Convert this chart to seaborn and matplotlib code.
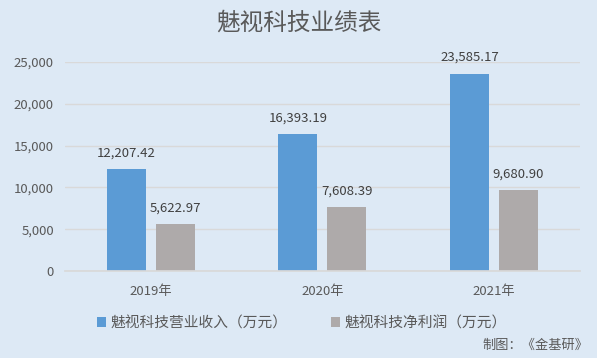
import pandas as pd
import seaborn as sns
import matplotlib.pyplot as plt

years = ["2019年", "2020年", "2021年"]
revenue = [12207.42, 16393.19, 23585.17]
profit = [5622.97, 7608.39, 9680.90]
series_names = ["魅视科技营业收入（万元）", "魅视科技净利润（万元）"]
yticks = [0, 5000, 10000, 15000, 20000, 25000]

df = pd.DataFrame({
    "year": years * 2,
    "value": revenue + profit,
    "series": [series_names[0]] * 3 + [series_names[1]] * 3,
})

sns.set_theme(style="white")
plt.rcParams['font.family'] = ['Noto Sans CJK SC', 'DejaVu Sans']

bg = "#dde9f5"
text_col = "#595959"
fig = plt.figure(figsize=(5.97, 3.58), dpi=100, facecolor=bg)
ax = fig.add_axes([0.109, 0.243, 0.862, 0.584])
ax.set_facecolor(bg)

sns.barplot(data=df, x="year", y="value", hue="series",
            palette=["#5b9bd5", "#aeaaaa"], width=0.57, gap=0.2,
            saturation=1, linewidth=0, ax=ax, legend=True)

# data labels
for cont in ax.containers:
    ax.bar_label(cont, labels=[f"{v:,.2f}" for v in cont.datavalues],
                 padding=7, fontsize=9.5, color="#404040")

ax.set_ylim(0, 25000)
ax.set_xlim(-0.5, 2.5)
ax.set_yticks(yticks)
ax.set_yticklabels([f"{v:,}" for v in yticks])
ax.yaxis.grid(True, color="#d9d9d9", linewidth=1)
ax.set_axisbelow(True)
ax.set_xlabel("")
ax.set_ylabel("")
for s in ["top", "right", "left"]:
    ax.spines[s].set_visible(False)
ax.spines["bottom"].set_color("#d9d9d9")
ax.tick_params(axis="both", length=0, labelsize=9.5, colors=text_col, pad=8)
ax.tick_params(axis="x", pad=10)

ax.legend(loc="center", bbox_to_anchor=(0.46, -0.25), ncol=2,
          frameon=False, fontsize=10.6, labelcolor=text_col,
          handlelength=0.6, handleheight=0.6, handletextpad=0.3,
          columnspacing=3.0)

fig.text(0.5, 0.935, "魅视科技业绩表", ha="center", va="center",
         fontsize=17, color=text_col)
fig.text(0.985, 0.035, "制图：《金基研》", ha="right", va="center",
         fontsize=9.5, color=text_col)

fig.savefig("out.png", dpi=100, facecolor=bg)
